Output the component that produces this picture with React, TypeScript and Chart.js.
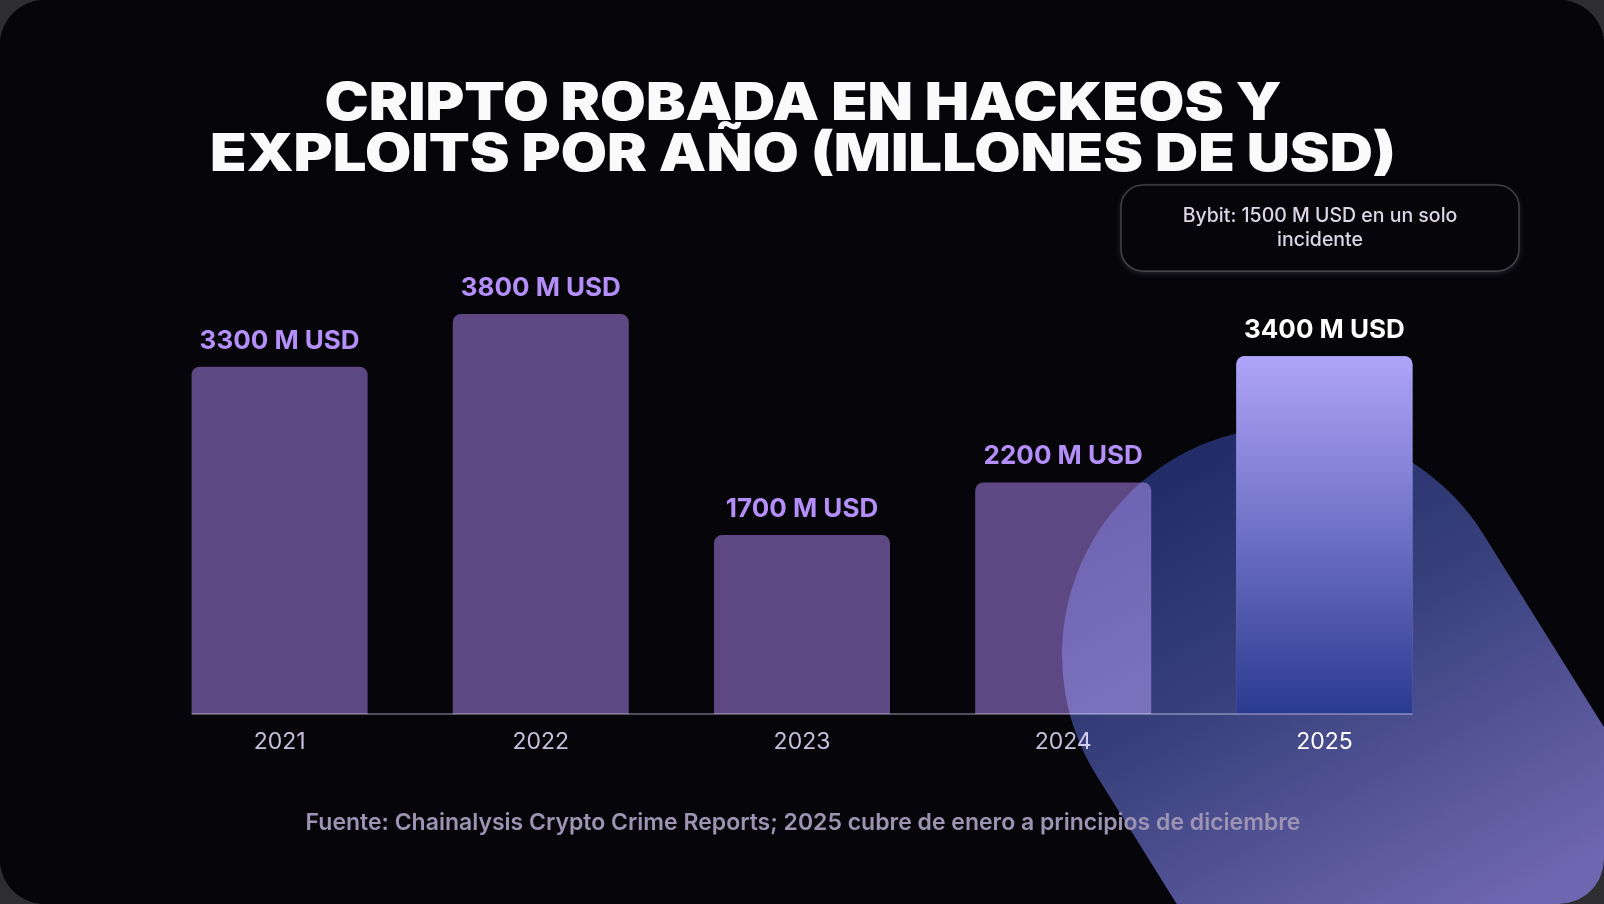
import { useEffect, useRef } from "react"
import { Chart, registerables } from "chart.js"

Chart.register(...registerables)

const years = ["2021", "2022", "2023", "2024", "2025"]
const stolen = [3300, 3800, 1700, 2200, 3400]
const valueLabels = ["3300 M USD", "3800 M USD", "1700 M USD", "2200 M USD", "3400 M USD"]
const titleLines = ["CRIPTO ROBADA EN HACKEOS Y", "EXPLOITS POR AÑO (MILLONES DE USD)"]
const noteLines = ["Bybit: 1500 M USD en un solo", "incidente"]
const source = "Fuente: Chainalysis Crypto Crime Reports; 2025 cubre de enero a principios de diciembre"

const FONT = "Inter, 'Noto Sans', 'DejaVu Sans', sans-serif"
const BAR = "#5d4884"

function roundRect(ctx, x, y, w, h, r) {
  ctx.beginPath()
  ctx.moveTo(x + r, y)
  ctx.lineTo(x + w - r, y)
  ctx.arcTo(x + w, y, x + w, y + r, r)
  ctx.lineTo(x + w, y + h - r)
  ctx.arcTo(x + w, y + h, x + w - r, y + h, r)
  ctx.lineTo(x + r, y + h)
  ctx.arcTo(x, y + h, x, y + h - r, r)
  ctx.lineTo(x, y + r)
  ctx.arcTo(x, y, x + r, y, r)
  ctx.closePath()
}

const decorPlugin = {
  id: "decor",
  beforeDraw(chart) {
    const { ctx, width, height } = chart
    ctx.save()
    ctx.fillStyle = "#060509"
    ctx.fillRect(0, 0, width, height)
    ctx.restore()
  },
  afterDatasetsDraw(chart) {
    const { ctx } = chart
    const meta = chart.getDatasetMeta(0)
    const first = meta.data[0]
    const last = meta.data[meta.data.length - 1]
    const base = chart.scales.y.getPixelForValue(0)

    // glowing capsule in the lower right, screened over the bars
    ctx.save()
    ctx.save()
    ctx.translate(1290, 655)
    ctx.rotate((58 * Math.PI) / 180)
    ctx.beginPath()
    ctx.arc(0, 0, 228, Math.PI / 2, (3 * Math.PI) / 2)
    ctx.lineTo(900, -228)
    ctx.lineTo(900, 228)
    ctx.closePath()
    ctx.restore()
    const g = ctx.createLinearGradient(1250, 430, 1510, 900)
    g.addColorStop(0, "#1d2862")
    g.addColorStop(0.4, "#323c76")
    g.addColorStop(1, "#6b63ad")
    ctx.fillStyle = g
    ctx.globalCompositeOperation = "screen"
    ctx.fill()
    ctx.restore()

    // 2025 bar sits on top of the glow
    last.draw(ctx)

    ctx.save()
    ctx.globalCompositeOperation = "screen"
    ctx.strokeStyle = "#4d4b55"
    ctx.lineWidth = 2
    ctx.beginPath()
    ctx.moveTo(first.x - first.width / 2, base)
    ctx.lineTo(last.x + last.width / 2, base)
    ctx.stroke()
    ctx.restore()

    ctx.save()
    ctx.font = `700 26px ${FONT}`
    ctx.textAlign = "center"
    ctx.textBaseline = "alphabetic"
    meta.data.forEach((bar, i) => {
      ctx.fillStyle = i === meta.data.length - 1 ? "#ffffff" : "#b48ef9"
      ctx.fillText(valueLabels[i], bar.x, bar.y - 18)
    })
    ctx.restore()
  },
  afterDraw(chart) {
    const { ctx } = chart
    const cx = 803

    // title, squeezed to the width of the heavy display face
    ctx.save()
    ctx.fillStyle = "#fafafa"
    ctx.font = `900 52px ${FONT}`
    ctx.textBaseline = "alphabetic"
    ctx.textAlign = "left"
    const targets = [957, 1186]
    const baselines = [120, 171]
    titleLines.forEach((line, i) => {
      const w = ctx.measureText(line).width
      const s = targets[i] / w
      ctx.save()
      ctx.translate(cx - targets[i] / 2, baselines[i])
      ctx.scale(s, 1)
      ctx.fillText(line, 0, 0)
      ctx.restore()
    })
    ctx.restore()

    // callout box
    ctx.save()
    ctx.shadowColor = "rgba(150,150,170,0.25)"
    ctx.shadowBlur = 6
    ctx.shadowOffsetY = 2
    roundRect(ctx, 1121, 185, 398, 86, 22)
    ctx.fillStyle = "#060509"
    ctx.fill()
    ctx.shadowColor = "transparent"
    ctx.strokeStyle = "rgba(255,255,255,0.22)"
    ctx.lineWidth = 1.5
    ctx.stroke()
    ctx.fillStyle = "#dcd7e6"
    ctx.font = `500 19.5px ${FONT}`
    ctx.textAlign = "center"
    ctx.textBaseline = "middle"
    noteLines.forEach((line, i) => ctx.fillText(line, 1320, 216 + i * 24))
    ctx.restore()

    // source line
    ctx.save()
    ctx.fillStyle = "#9d94b4"
    ctx.font = `600 23px ${FONT}`
    ctx.textAlign = "center"
    ctx.textBaseline = "alphabetic"
    ctx.fillText(source, cx, 830)
    ctx.restore()
  },
}

export default function App() {
  const chartRef = useRef(null)
  const chartInstance = useRef(null)

  useEffect(() => {
    if (!chartRef.current) return
    if (chartInstance.current) chartInstance.current.destroy()

    const ctx = chartRef.current.getContext("2d")

    chartInstance.current = new Chart(ctx, {
      type: "bar",
      data: {
        labels: years,
        datasets: [
          {
            label: "Cripto robada (M USD)",
            data: stolen,
            backgroundColor: (c) => {
              if (c.dataIndex !== years.length - 1) return BAR
              const chart = c.chart
              const y = chart.scales?.y
              if (!chart.chartArea || !y) return "#8f86e0"
              const g = chart.ctx.createLinearGradient(0, y.getPixelForValue(stolen[c.dataIndex]), 0, y.getPixelForValue(0))
              g.addColorStop(0, "#afa4f9")
              g.addColorStop(0.5, "#6e70c5")
              g.addColorStop(1, "#2a3a8f")
              return g
            },
            borderRadius: { topLeft: 8, topRight: 8, bottomLeft: 0, bottomRight: 0 },
            borderSkipped: "bottom",
            barPercentage: 0.674,
            categoryPercentage: 1,
          },
        ],
      },
      options: {
        responsive: true,
        maintainAspectRatio: false,
        animation: false,
        layout: {
          padding: { left: 149, right: 149, top: 293, bottom: 150 },
        },
        plugins: {
          legend: { display: false },
          tooltip: { enabled: false },
        },
        scales: {
          x: {
            grid: { display: false, drawTicks: false },
            border: { display: false },
            ticks: {
              padding: 14,
              color: (c) => (c.index === years.length - 1 ? "#ffffff" : "#c8bfdc"),
              font: { family: FONT, size: 23, weight: "400" },
            },
            afterFit: (scale) => {
              scale.height = 40
            },
          },
          y: {
            display: false,
            min: 0,
            max: 4000,
          },
        },
      },
      plugins: [decorPlugin],
    })

    return () => {
      if (chartInstance.current) {
        chartInstance.current.destroy()
        chartInstance.current = null
      }
    }
  }, [])

  return (
    <div style={{ position: "fixed", inset: 0, background: "#2e2d30" }}>
      <div
        style={{
          position: "absolute",
          left: 0,
          top: 0,
          width: 1604,
          height: 904,
          borderRadius: 45,
          overflow: "hidden",
          background: "#060509",
        }}
      >
        <canvas ref={chartRef} />
      </div>
    </div>
  )
}
